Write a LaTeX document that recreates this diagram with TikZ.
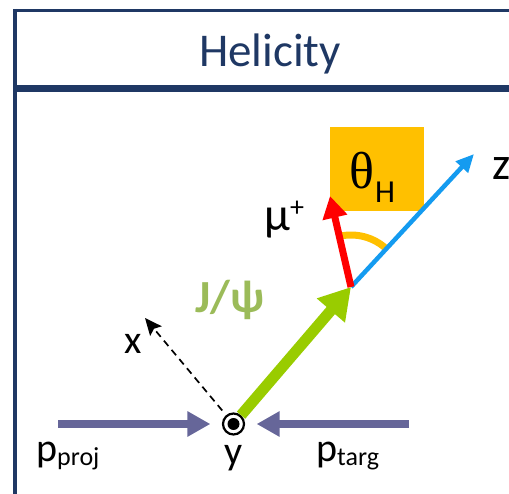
\documentclass[tikz,border=0pt]{standalone}
\usepackage{fontspec}
\setmainfont{Carlito}
\newfontfamily\serifgreek{Liberation Serif}
\usetikzlibrary{arrows.meta}
\definecolor{navy}{RGB}{31,56,100}
\definecolor{beamcol}{RGB}{102,102,153}
\definecolor{jpsicol}{RGB}{153,204,0}
\definecolor{jpsitext}{RGB}{155,187,89}
\definecolor{zcol}{RGB}{20,155,240}
\definecolor{gold}{RGB}{255,192,0}
\tikzset{
  beam/.style={draw=beamcol, line width=7.5pt, -{Triangle[length=23pt,width=24pt]}, shorten >=11.5pt},
  jpsiarrow/.style={draw=jpsicol, line width=11pt, -{Triangle[length=31pt,width=35pt]}},
  zarrow/.style={draw=zcol, line width=4.5pt, -{Triangle[length=18pt,width=16pt]}},
  muarrow/.style={draw=red, line width=7pt, -{Triangle[length=22pt,width=24pt]}},
  xarrow/.style={draw=black, line width=1.7pt, dash pattern=on 7pt off 5pt, -{Stealth[length=17pt,width=15pt,inset=3pt]}, shorten <=6pt},
  lbl/.style={inner sep=0pt, font=\fontsize{40}{40}\selectfont},
}
\begin{document}
\begin{tikzpicture}[x=1pt,y=-1pt]
\useasboundingbox (0,0) rectangle (509,494);
\begin{scope}
\clip (0,0) rectangle (509,494);
% frame
\draw[navy, line width=3pt] (13,10.5) -- (520,10.5);
\draw[navy, line width=6.5pt] (13,88.5) -- (520,88.5);
\draw[navy, line width=4pt] (15,9) -- (15,500);
\node[anchor=base, inner sep=0pt, text=navy, font=\fontsize{47}{47}\selectfont] (title) at (270,67) {Helicity};

% theta box
\node[fill=gold, minimum width=94pt, minimum height=84pt, inner sep=0pt, anchor=north west] (box) at (330,127) {};

% origin
\node[circle, draw=black, line width=2.2pt, fill=white, minimum size=21pt, inner sep=0pt] (O) at (233.5,424) {};
\fill[black] (O.center) circle (6pt);

\coordinate (Pp) at (58,424);
\coordinate (Pt) at (409,424);
\coordinate (J) at (351,287);
\coordinate (Z) at (474,154);
\coordinate (M) at (330,196);
\coordinate (X) at (145,318);

% gold arc
\draw[gold, line width=7pt] ([shift={(-103:52)}]J) arc[start angle=-103, end angle=-47, radius=52];

\draw[beam] (Pp) -- (O);
\draw[beam] (Pt) -- (O);
\draw[xarrow] (O) -- (X);
\draw[zarrow] (J) -- (Z);
\draw[muarrow] (J) -- (M);
\draw[jpsiarrow] (O) -- (J);

% labels
\node[anchor=base west, inner sep=0pt] (th) at (349,189) {\fontsize{52}{52}\selectfont\serifgreek θ\kern1pt\raisebox{-14pt}{\fontsize{32}{32}\selectfont\rmfamily H}};
\node[anchor=base, inner sep=0pt, text=jpsitext, font=\fontsize{46}{46}\selectfont\bfseries] (jl) at (230,313) {J/ψ};
\node[anchor=base west, inner sep=0pt, font=\fontsize{47}{47}\selectfont] (mul) at (264,231) {μ\raisebox{14.5pt}{\fontsize{28}{28}\selectfont +}};
\node[anchor=base west, lbl, font=\fontsize{46}{46}\selectfont] (zl) at (492,180) {z};
\node[anchor=base, lbl] (xl) at (133,354) {x};
\node[anchor=base, lbl] (yl) at (233.5,464) {y};
\node[anchor=base west, lbl] (pp) at (36,461) {p\raisebox{-4pt}{\fontsize{26}{26}\selectfont proj}};
\node[anchor=base west, lbl] (pt) at (316,461) {p\raisebox{-4pt}{\fontsize{26}{26}\selectfont targ}};
\end{scope}
\end{tikzpicture}
\end{document}
